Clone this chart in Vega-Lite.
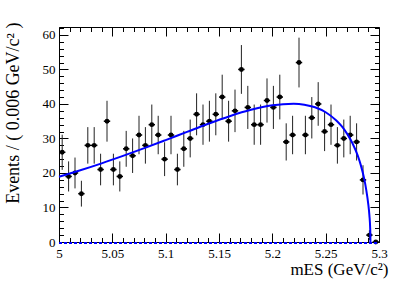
{
  "$schema": "https://vega.github.io/schema/vega-lite/v6.json",
  "width": 320,
  "height": 215,
  "autosize": "none",
  "padding": {"left": 59, "top": 27, "right": 20, "bottom": 44},
  "background": "white",
  "config": {
    "view": {"stroke": "black", "strokeWidth": 1},
    "axis": {
      "domain": false,
      "grid": false,
      "labelFont": "Liberation Serif",
      "titleFont": "Liberation Serif",
      "labelFontSize": 13,
      "titleFontSize": 17,
      "titleFontWeight": "normal",
      "labelColor": "black",
      "titleColor": "black",
      "tickColor": "black",
      "tickWidth": 1
    }
  },
  "datasets": {
    "bins": [
      {"x": 5.003, "xlo": 5.000, "xhi": 5.006, "n": 26, "lo": 20.90, "hi": 31.10},
      {"x": 5.009, "xlo": 5.006, "xhi": 5.012, "n": 19, "lo": 14.64, "hi": 23.36},
      {"x": 5.015, "xlo": 5.012, "xhi": 5.018, "n": 20, "lo": 15.53, "hi": 24.47},
      {"x": 5.021, "xlo": 5.018, "xhi": 5.024, "n": 14, "lo": 10.26, "hi": 17.74},
      {"x": 5.027, "xlo": 5.024, "xhi": 5.030, "n": 28, "lo": 22.71, "hi": 33.29},
      {"x": 5.033, "xlo": 5.030, "xhi": 5.036, "n": 28, "lo": 22.71, "hi": 33.29},
      {"x": 5.039, "xlo": 5.036, "xhi": 5.042, "n": 21, "lo": 16.42, "hi": 25.58},
      {"x": 5.045, "xlo": 5.042, "xhi": 5.048, "n": 35, "lo": 29.08, "hi": 40.92},
      {"x": 5.051, "xlo": 5.048, "xhi": 5.054, "n": 21, "lo": 16.42, "hi": 25.58},
      {"x": 5.057, "xlo": 5.054, "xhi": 5.060, "n": 19, "lo": 14.64, "hi": 23.36},
      {"x": 5.063, "xlo": 5.060, "xhi": 5.066, "n": 27, "lo": 21.80, "hi": 32.20},
      {"x": 5.069, "xlo": 5.066, "xhi": 5.072, "n": 25, "lo": 20.00, "hi": 30.00},
      {"x": 5.075, "xlo": 5.072, "xhi": 5.078, "n": 31, "lo": 25.43, "hi": 36.57},
      {"x": 5.081, "xlo": 5.078, "xhi": 5.084, "n": 28, "lo": 22.71, "hi": 33.29},
      {"x": 5.087, "xlo": 5.084, "xhi": 5.090, "n": 34, "lo": 28.17, "hi": 39.83},
      {"x": 5.093, "xlo": 5.090, "xhi": 5.096, "n": 31, "lo": 25.43, "hi": 36.57},
      {"x": 5.099, "xlo": 5.096, "xhi": 5.102, "n": 24, "lo": 19.10, "hi": 28.90},
      {"x": 5.105, "xlo": 5.102, "xhi": 5.108, "n": 31, "lo": 25.43, "hi": 36.57},
      {"x": 5.111, "xlo": 5.108, "xhi": 5.114, "n": 21, "lo": 16.42, "hi": 25.58},
      {"x": 5.117, "xlo": 5.114, "xhi": 5.120, "n": 27, "lo": 21.80, "hi": 32.20},
      {"x": 5.123, "xlo": 5.120, "xhi": 5.126, "n": 30, "lo": 24.52, "hi": 35.48},
      {"x": 5.129, "xlo": 5.126, "xhi": 5.132, "n": 37, "lo": 30.92, "hi": 43.08},
      {"x": 5.135, "xlo": 5.132, "xhi": 5.138, "n": 34, "lo": 28.17, "hi": 39.83},
      {"x": 5.141, "xlo": 5.138, "xhi": 5.144, "n": 35, "lo": 29.08, "hi": 40.92},
      {"x": 5.147, "xlo": 5.144, "xhi": 5.150, "n": 37, "lo": 30.92, "hi": 43.08},
      {"x": 5.153, "xlo": 5.150, "xhi": 5.156, "n": 42, "lo": 35.52, "hi": 48.48},
      {"x": 5.159, "xlo": 5.156, "xhi": 5.162, "n": 35, "lo": 29.08, "hi": 40.92},
      {"x": 5.165, "xlo": 5.162, "xhi": 5.168, "n": 38, "lo": 31.84, "hi": 44.16},
      {"x": 5.171, "xlo": 5.168, "xhi": 5.174, "n": 50, "lo": 42.93, "hi": 57.07},
      {"x": 5.177, "xlo": 5.174, "xhi": 5.180, "n": 39, "lo": 32.76, "hi": 45.24},
      {"x": 5.183, "xlo": 5.180, "xhi": 5.186, "n": 34, "lo": 28.17, "hi": 39.83},
      {"x": 5.189, "xlo": 5.186, "xhi": 5.192, "n": 34, "lo": 28.17, "hi": 39.83},
      {"x": 5.195, "xlo": 5.192, "xhi": 5.198, "n": 41, "lo": 34.60, "hi": 47.40},
      {"x": 5.201, "xlo": 5.198, "xhi": 5.204, "n": 39, "lo": 32.76, "hi": 45.24},
      {"x": 5.207, "xlo": 5.204, "xhi": 5.210, "n": 42, "lo": 35.52, "hi": 48.48},
      {"x": 5.213, "xlo": 5.210, "xhi": 5.216, "n": 29, "lo": 23.61, "hi": 34.39},
      {"x": 5.219, "xlo": 5.216, "xhi": 5.222, "n": 31, "lo": 25.43, "hi": 36.57},
      {"x": 5.225, "xlo": 5.222, "xhi": 5.228, "n": 52, "lo": 44.79, "hi": 59.21},
      {"x": 5.231, "xlo": 5.228, "xhi": 5.234, "n": 31, "lo": 25.43, "hi": 36.57},
      {"x": 5.237, "xlo": 5.234, "xhi": 5.240, "n": 36, "lo": 30.00, "hi": 42.00},
      {"x": 5.243, "xlo": 5.240, "xhi": 5.246, "n": 40, "lo": 33.68, "hi": 46.32},
      {"x": 5.249, "xlo": 5.246, "xhi": 5.252, "n": 32, "lo": 26.34, "hi": 37.66},
      {"x": 5.255, "xlo": 5.252, "xhi": 5.258, "n": 34, "lo": 28.17, "hi": 39.83},
      {"x": 5.261, "xlo": 5.258, "xhi": 5.264, "n": 28, "lo": 22.71, "hi": 33.29},
      {"x": 5.267, "xlo": 5.264, "xhi": 5.270, "n": 30, "lo": 24.52, "hi": 35.48},
      {"x": 5.273, "xlo": 5.270, "xhi": 5.276, "n": 31, "lo": 25.43, "hi": 36.57},
      {"x": 5.279, "xlo": 5.276, "xhi": 5.282, "n": 29, "lo": 23.61, "hi": 34.39},
      {"x": 5.285, "xlo": 5.282, "xhi": 5.288, "n": 18, "lo": 13.76, "hi": 22.24},
      {"x": 5.291, "xlo": 5.288, "xhi": 5.294, "n": 2, "lo": 0.59, "hi": 3.41},
      {"x": 5.297, "xlo": 5.294, "xhi": 5.300, "n": 0, "lo": 0, "hi": 0}
    ],
    "curve": [
      {"x": 5.000, "y": 18.90},
      {"x": 5.020, "y": 20.78},
      {"x": 5.040, "y": 22.79},
      {"x": 5.060, "y": 24.94},
      {"x": 5.080, "y": 27.19},
      {"x": 5.100, "y": 29.53},
      {"x": 5.120, "y": 31.91},
      {"x": 5.140, "y": 34.27},
      {"x": 5.160, "y": 36.45},
      {"x": 5.180, "y": 38.30},
      {"x": 5.200, "y": 39.60},
      {"x": 5.210, "y": 39.95},
      {"x": 5.220, "y": 40.05},
      {"x": 5.230, "y": 39.80},
      {"x": 5.240, "y": 39.05},
      {"x": 5.250, "y": 37.60},
      {"x": 5.260, "y": 35.20},
      {"x": 5.265, "y": 33.55},
      {"x": 5.270, "y": 31.40},
      {"x": 5.275, "y": 28.70},
      {"x": 5.280, "y": 25.10},
      {"x": 5.283, "y": 22.20},
      {"x": 5.286, "y": 18.50},
      {"x": 5.288, "y": 15.20},
      {"x": 5.290, "y": 10.85},
      {"x": 5.291, "y": 7.73},
      {"x": 5.2918, "y": 3.47},
      {"x": 5.292, "y": 0}
    ],
    "zero": [
      {"x": 5.0, "y": 0},
      {"x": 5.3, "y": 0}
    ]
  },
  "layer": [
    {
      "data": {"name": "bins"},
      "mark": {"type": "rule", "color": "#222222", "strokeWidth": 1},
      "encoding": {
        "x": {
          "field": "x", "type": "quantitative",
          "scale": {"domain": [5, 5.3], "nice": false, "zero": false},
          "axis": {
            "orient": "bottom",
            "values": [5, 5.05, 5.1, 5.15, 5.2, 5.25, 5.3],
            "format": "~g",
            "tickSize": -9,
            "labelPadding": 14,
            "labelFlush": false,
            "title": "mES (GeV/c²)",
            "titleAnchor": "end",
            "titleX": 329,
            "titlePadding": 1
          }
        },
        "y": {
          "field": "lo", "type": "quantitative",
          "scale": {"domain": [0, 62.3], "nice": false},
          "axis": {
            "orient": "left",
            "values": [0, 10, 20, 30, 40, 50, 60],
            "tickSize": -9,
            "labelPadding": 13,
            "title": "Events / ( 0.006 GeV/c² )",
            "titleAnchor": "end",
            "titleFontSize": 18,
            "titleY": -5,
            "titlePadding": 20
          }
        },
        "y2": {"field": "hi"}
      }
    },
    {
      "data": {"name": "bins"},
      "mark": {"type": "rule", "color": "black", "strokeWidth": 1.5},
      "encoding": {
        "x": {
          "field": "xlo", "type": "quantitative",
          "axis": {
            "orient": "top",
            "values": [5, 5.05, 5.1, 5.15, 5.2, 5.25, 5.3],
            "tickSize": -9,
            "labels": false,
            "title": null
          }
        },
        "x2": {"field": "xhi"},
        "y": {
          "field": "n", "type": "quantitative",
          "axis": {
            "orient": "right",
            "values": [0, 10, 20, 30, 40, 50, 60],
            "tickSize": -9,
            "labels": false,
            "title": null
          }
        }
      }
    },
    {
      "data": {"name": "bins"},
      "mark": {"type": "point", "filled": true, "color": "black", "size": 24, "opacity": 1},
      "encoding": {
        "x": {
          "field": "x", "type": "quantitative",
          "axis": {
            "orient": "bottom",
            "values": [5.01, 5.02, 5.03, 5.04, 5.06, 5.07, 5.08, 5.09, 5.11, 5.12, 5.13, 5.14, 5.16, 5.17, 5.18, 5.19, 5.21, 5.22, 5.23, 5.24, 5.26, 5.27, 5.28, 5.29],
            "tickSize": -4.5,
            "labels": false,
            "title": null
          }
        },
        "y": {
          "field": "n", "type": "quantitative",
          "axis": {
            "orient": "left",
            "values": [2, 4, 6, 8, 12, 14, 16, 18, 22, 24, 26, 28, 32, 34, 36, 38, 42, 44, 46, 48, 52, 54, 56, 58, 62],
            "tickSize": -4.5,
            "labels": false,
            "title": null
          }
        }
      }
    },
    {
      "data": {"name": "curve"},
      "mark": {"type": "line", "color": "#0000ff", "strokeWidth": 2, "interpolate": "monotone"},
      "encoding": {
        "x": {
          "field": "x", "type": "quantitative",
          "axis": {
            "orient": "top",
            "values": [5.01, 5.02, 5.03, 5.04, 5.06, 5.07, 5.08, 5.09, 5.11, 5.12, 5.13, 5.14, 5.16, 5.17, 5.18, 5.19, 5.21, 5.22, 5.23, 5.24, 5.26, 5.27, 5.28, 5.29],
            "tickSize": -4.5,
            "labels": false,
            "title": null
          }
        },
        "y": {
          "field": "y", "type": "quantitative",
          "axis": {
            "orient": "right",
            "values": [2, 4, 6, 8, 12, 14, 16, 18, 22, 24, 26, 28, 32, 34, 36, 38, 42, 44, 46, 48, 52, 54, 56, 58, 62],
            "tickSize": -4.5,
            "labels": false,
            "title": null
          }
        }
      }
    },
    {
      "data": {"name": "zero"},
      "mark": {"type": "line", "color": "#0000ff", "strokeWidth": 2, "strokeDash": [3, 2], "yOffset": 1, "clip": false},
      "encoding": {
        "x": {"field": "x", "type": "quantitative", "axis": null},
        "y": {"field": "y", "type": "quantitative", "axis": null}
      }
    }
  ],
  "resolve": {"axis": {"x": "independent", "y": "independent"}}
}
